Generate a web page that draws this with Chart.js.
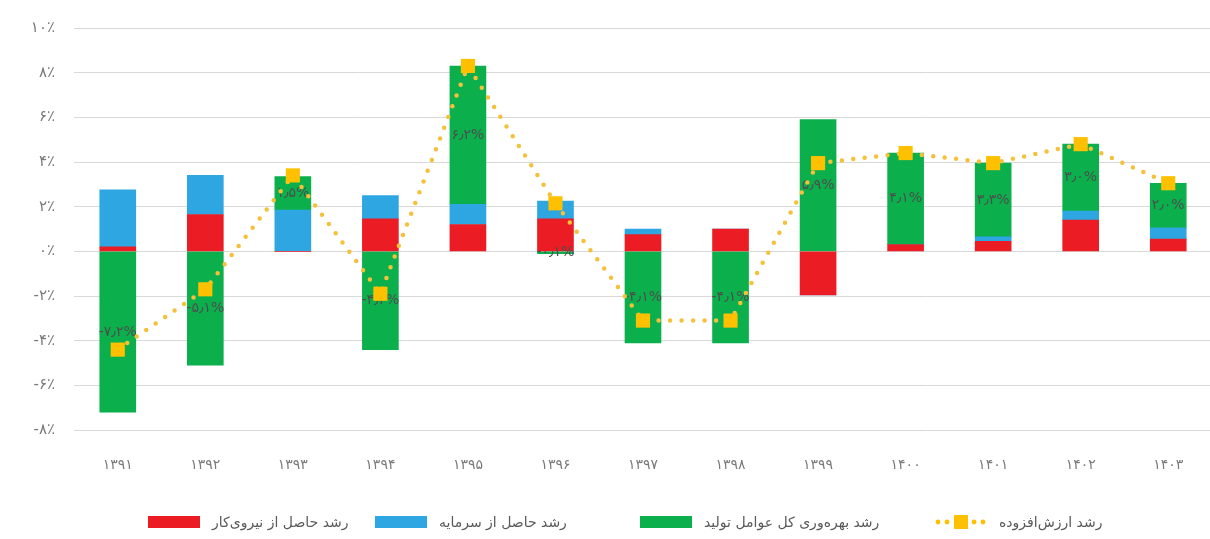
<!DOCTYPE html>
<html lang="fa">
<head>
<meta charset="utf-8">
<script src="https://cdn.jsdelivr.net/npm/chart.js@4.4.1/dist/chart.umd.min.js"></script>
<style>
  html, body { margin: 0; padding: 0; background: #fff; overflow: hidden; }
  #wrap { position: relative; width: 1222px; height: 539px; }
</style>
</head>
<body>
<div id="wrap"><canvas id="chart"></canvas></div>
<script>
// ---- data ----
const years = ['۱۳۹۱', '۱۳۹۲', '۱۳۹۳', '۱۳۹۴', '۱۳۹۵', '۱۳۹۶', '۱۳۹۷', '۱۳۹۸', '۱۳۹۹', '۱۴۰۰', '۱۴۰۱', '۱۴۰۲', '۱۴۰۳'];
const laborGrowth   = [0.2, 1.65, 0, 1.45, 1.2, 1.45, 0.75, 1.0, -1.95, 0.3, 0.45, 1.4, 0.55];
const capitalGrowth = [2.55, 1.75, 1.85, 1.05, 0.9, 0.8, 0.25, 0, 0, 0, 0.2, 0.4, 0.5];
const tfpGrowth     = [-7.2, -5.1, 1.5, -4.4, 6.2, -0.1, -4.1, -4.1, 5.9, 4.1, 3.3, 3.0, 2.0];
const valueAdded    = [-4.4, -1.7, 3.4, -1.9, 8.3, 2.15, -3.1, -3.1, 3.95, 4.4, 3.95, 4.8, 3.05];
const yTicks        = [-8, -6, -4, -2, 0, 2, 4, 6, 8, 10];

const seriesNames = ['رشد حاصل از نیروی‌کار', 'رشد حاصل از سرمایه', 'رشد بهره‌وری کل عوامل تولید', 'رشد ارزش‌افزوده'];

const RED = '#ec1c24', BLUE = '#2ea6e2', GREEN = '#0bb04c', GOLD = '#ffc000';
const FONT = '"DejaVu Sans", sans-serif';

const faDigits = '۰۱۲۳۴۵۶۷۸۹';
const toFa = (s) => String(s).replace(/\d/g, d => faDigits[d]);
const pct = (v) => toFa(v.toFixed(1)).replace('.', '٫') + '%';

// labels for the green (TFP) segments, drawn just before the dotted line
const tfpLabels = {
  id: 'tfpLabels',
  beforeDatasetDraw(chart, args) {
    if (args.index !== 3) return;
    const meta = chart.getDatasetMeta(2);
    const ctx = chart.ctx;
    ctx.save();
    ctx.font = '14px ' + FONT;
    ctx.fillStyle = '#4d4d4d';
    ctx.textAlign = 'center';
    ctx.textBaseline = 'middle';
    meta.data.forEach((bar, i) => {
      const y = (bar.y + bar.base) / 2;
      ctx.fillText(pct(tfpGrowth[i]), bar.x, y);
    });
    ctx.restore();
  }
};

// bottom legend, box on the left of each text like the original
const legendX = [148, 375, 640, 935];
const bottomLegend = {
  id: 'bottomLegend',
  afterDraw(chart) {
    const ctx = chart.ctx;
    const cy = 522;
    ctx.save();
    ctx.font = '14px ' + FONT;
    ctx.textBaseline = 'middle';
    ctx.textAlign = 'left';
    chart.data.datasets.forEach((ds, i) => {
      const x = legendX[i];
      if (ds.type === 'line') {
        ctx.fillStyle = GOLD;
        for (let k = 0; k < 6; k++) {
          const dx = x + 3 + k * 9;
          if (k === 2 || k === 3) continue;
          ctx.beginPath();
          ctx.arc(dx, cy, 2.4, 0, Math.PI * 2);
          ctx.fill();
        }
        ctx.fillRect(x + 19, cy - 7, 14, 14);
      } else {
        ctx.fillStyle = ds.backgroundColor;
        ctx.fillRect(x, cy - 6, 52, 12);
      }
      ctx.fillStyle = '#595959';
      ctx.fillText(ds.label, x + 64, cy + 1);
    });
    ctx.restore();
  }
};

const barCommon = { type: 'bar', stack: 'f', order: 1, barThickness: 36, borderWidth: 0 };

new Chart(document.getElementById('chart'), {
  data: {
    labels: years,
    datasets: [
      Object.assign({ label: seriesNames[0], data: laborGrowth, backgroundColor: RED }, barCommon),
      Object.assign({ label: seriesNames[1], data: capitalGrowth, backgroundColor: BLUE }, barCommon),
      Object.assign({ label: seriesNames[2], data: tfpGrowth, backgroundColor: GREEN }, barCommon),
      {
        type: 'line', label: seriesNames[3], data: valueAdded, stack: 'va', order: 0,
        borderColor: '#f5c13a', borderWidth: 4.5, borderDash: [0, 11.5], borderCapStyle: 'round',
        pointStyle: 'rect', pointRadius: 10, pointBackgroundColor: GOLD, pointBorderWidth: 0,
        pointHoverRadius: 10, tension: 0, fill: false
      }
    ]
  },
  options: {
    responsive: true,
    maintainAspectRatio: false,
    animation: false,
    layout: { padding: { top: 18, right: 1, left: 0, bottom: 0 } },
    plugins: {
      legend: { display: false },
      tooltip: { enabled: false }
    },
    scales: {
      x: {
        stacked: true,
        grid: { display: false, drawTicks: false },
        border: { display: false },
        ticks: { color: '#7a7a7a', font: { family: FONT, size: 14 }, padding: 27 },
        afterFit: (s) => { s.height = 109; }
      },
      y: {
        stacked: true,
        min: -8, max: 10,
        afterBuildTicks: (s) => { s.ticks = yTicks.map(v => ({ value: v })); },
        grid: { color: '#d9d9d9', lineWidth: 1, drawTicks: false },
        border: { display: false },
        ticks: {
          color: '#7a7a7a', font: { family: FONT, size: 15 }, padding: 19,
          callback: (v) => toFa(v) + '٪'
        },
        afterFit: (s) => { s.width = 74; }
      }
    }
  },
  plugins: [tfpLabels, bottomLegend]
});
</script>
</body>
</html>
